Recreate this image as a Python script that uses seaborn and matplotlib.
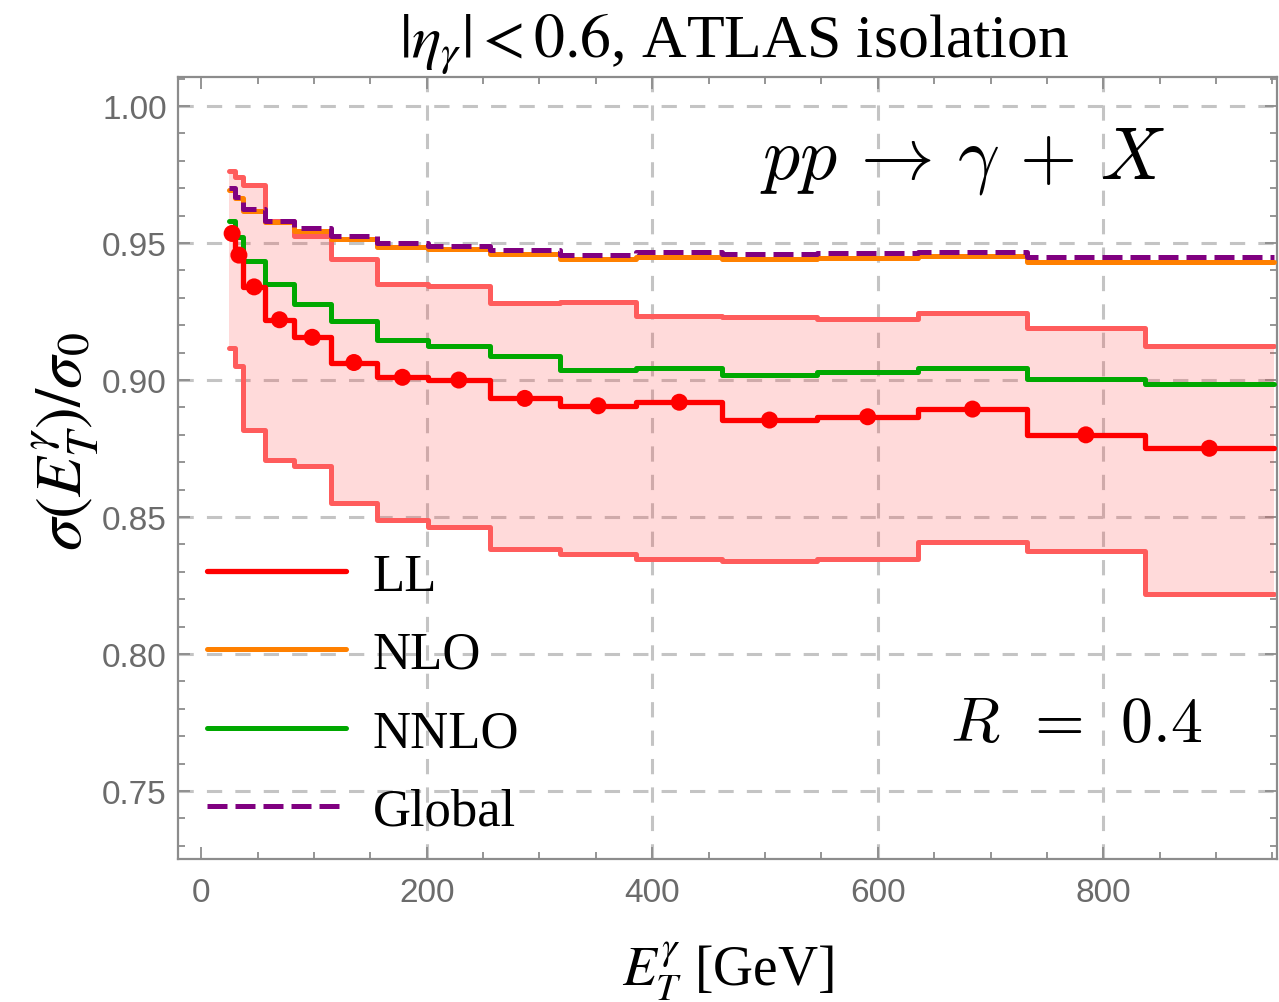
import numpy as np
import matplotlib
matplotlib.use("Agg")
import matplotlib.pyplot as plt
from matplotlib.ticker import MultipleLocator, FormatStrFormatter
import seaborn as sns

# ── Data ─────────────────────────────────────────────────────────────────────
ET_EDGES = [25, 30, 37, 57, 82, 115, 156, 201, 256, 318, 386, 462, 546, 636, 732, 837, 951]
LL = [0.9535, 0.9456, 0.9340, 0.9220, 0.9156, 0.9064, 0.9010, 0.9000,
      0.8933, 0.8906, 0.8919, 0.8854, 0.8866, 0.8894, 0.8800, 0.8751]
LL_UP = [0.9764, 0.9740, 0.9712, 0.9582, 0.9525, 0.9440, 0.9350, 0.9342,
         0.9283, 0.9286, 0.9232, 0.9229, 0.9223, 0.9245, 0.9190, 0.9125]
LL_DOWN = [0.9117, 0.9050, 0.8818, 0.8709, 0.8687, 0.8550, 0.8490, 0.8462,
           0.8383, 0.8365, 0.8347, 0.8338, 0.8348, 0.8408, 0.8375, 0.8219]
NLO = [0.9692, 0.9663, 0.9616, 0.9576, 0.9545, 0.9515, 0.9485, 0.9478,
       0.9460, 0.9442, 0.9450, 0.9442, 0.9447, 0.9451, 0.9432, 0.9432]
NNLO = [0.9582, 0.9522, 0.9434, 0.9350, 0.9277, 0.9214, 0.9146, 0.9124,
        0.9089, 0.9038, 0.9044, 0.9020, 0.9029, 0.9044, 0.9004, 0.8985]
GLOBAL = [0.9700, 0.9667, 0.9624, 0.9582, 0.9555, 0.9525, 0.9500, 0.9489,
          0.9476, 0.9456, 0.9466, 0.9460, 0.9464, 0.9466, 0.9448, 0.9448]

X_TICKS = [0, 200, 400, 600, 800]
Y_TICKS = [0.75, 0.80, 0.85, 0.90, 0.95, 1.00]

# ── Style ────────────────────────────────────────────────────────────────────
LL_COLOR = "#ff0000"
BAND_EDGE = "#ff5c5c"
BAND_FILL = "#ff4646"
NLO_COLOR = "#ff8000"
NNLO_COLOR = "#00a800"
GLOBAL_COLOR = "#800080"
AXIS_GRAY = "#8c8c8c"
TICK_TEXT = "#6b6b6b"
GRID_GRAY = "#c4c4c4"

sns.set_theme(style="ticks")
plt.rcParams["font.family"] = ["Liberation Serif", "DejaVu Serif"]
plt.rcParams["mathtext.fontset"] = "stix"
plt.rcParams["text.color"] = "black"


def ext(vals):
    # repeat last value so steps-post closes the final bin
    return list(vals) + [vals[-1]]


edges = np.array(ET_EDGES, dtype=float)
centers = 0.5 * (edges[:-1] + edges[1:])

fig = plt.figure(figsize=(12.79, 10.03), dpi=100)
ax = fig.add_axes([178 / 1279, (1003 - 860) / 1003, (1277 - 178) / 1279, (860 - 78) / 1003])
ax.set_facecolor("white")

# grid (below everything)
for gy in Y_TICKS:
    ax.axhline(gy, color=GRID_GRAY, lw=2.2, ls=(0, (5, 4.3)), zorder=0)
for gx in X_TICKS[1:]:
    ax.axvline(gx, color=GRID_GRAY, lw=2.2, ls=(0, (5, 4.3)), zorder=0)

# LL uncertainty band
ax.fill_between(edges, ext(LL_DOWN), ext(LL_UP), step="post",
                color=BAND_FILL, alpha=0.2, lw=0, zorder=1)
sns.lineplot(x=edges, y=ext(LL_UP), drawstyle="steps-post", color=BAND_EDGE,
             lw=3.6, errorbar=None, ax=ax, zorder=2)
sns.lineplot(x=edges, y=ext(LL_DOWN), drawstyle="steps-post", color=BAND_EDGE,
             lw=3.6, errorbar=None, ax=ax, zorder=2)

sns.lineplot(x=edges, y=ext(LL), drawstyle="steps-post", color=LL_COLOR,
             lw=3.8, errorbar=None, ax=ax, zorder=5, label="LL")
sns.lineplot(x=edges, y=ext(NLO), drawstyle="steps-post", color=NLO_COLOR,
             lw=3.6, errorbar=None, ax=ax, zorder=3, label="NLO")
sns.lineplot(x=edges, y=ext(NNLO), drawstyle="steps-post", color=NNLO_COLOR,
             lw=3.6, errorbar=None, ax=ax, zorder=3, label="NNLO")
sns.lineplot(x=edges, y=ext(GLOBAL), drawstyle="steps-post", color=GLOBAL_COLOR,
             lw=3.6, ls=(0, (4, 1.6)), errorbar=None, ax=ax, zorder=4, label="Global")
sns.scatterplot(x=centers, y=LL, color=LL_COLOR, s=150, edgecolor="none",
                ax=ax, zorder=6, legend=False)

# axes
ax.set_xlim(-20.5, 954)
ax.set_ylim(0.7252, 1.0106)
ax.xaxis.set_major_locator(MultipleLocator(200))
ax.xaxis.set_minor_locator(MultipleLocator(50))
ax.yaxis.set_major_locator(MultipleLocator(0.05))
ax.yaxis.set_minor_locator(MultipleLocator(0.01))
ax.yaxis.set_major_formatter(FormatStrFormatter("%.2f"))
ax.tick_params(which="both", direction="in", top=True, right=True,
               color=AXIS_GRAY, width=1.3, labelcolor=TICK_TEXT)
ax.tick_params(which="major", length=8.5)
ax.tick_params(which="minor", length=5)
ax.tick_params(axis="x", pad=13)
ax.tick_params(axis="y", pad=8)
for lab in ax.get_xticklabels() + ax.get_yticklabels():
    lab.set_family("Liberation Sans")
    lab.set_fontsize(24)
for sp in ax.spines.values():
    sp.set_color(AXIS_GRAY)
    sp.set_linewidth(1.6)
ax.set_xlabel("")
ax.set_ylabel("")

# labels and annotations
fig.text(734 / 1279, 1 - 57 / 1003, r"$|\eta_\gamma| < 0.6$, ATLAS isolation",
         ha="center", va="baseline", fontsize=44.5)
fig.text(728 / 1279, 1 - 986 / 1003, r"$E_T^{\gamma}$ [GeV]",
         ha="center", va="baseline", fontsize=40)
fig.text(65 / 1279, 1 - 442 / 1003, r"$\sigma(E_T^{\gamma})/\sigma_0$",
         ha="center", va="center", rotation=90, fontsize=47)

ax.text(0.5296, 0.8721, r"$pp \,\rightarrow\, \gamma \,+\, X$", transform=ax.transAxes,
        ha="left", va="baseline", fontsize=53, math_fontfamily="cm")
ax.text(0.7025, 0.1509, r"$R\;\,=\;\,0.4$", transform=ax.transAxes,
        ha="left", va="baseline", fontsize=46, math_fontfamily="cm")

ax.legend(loc="center left", bbox_to_anchor=(0.0264, 0.211), frameon=False,
          fontsize=38, handlelength=2.64, handletextpad=0.5, labelspacing=0.57,
          borderpad=0, borderaxespad=0)

fig.savefig("out.png", dpi=100)
